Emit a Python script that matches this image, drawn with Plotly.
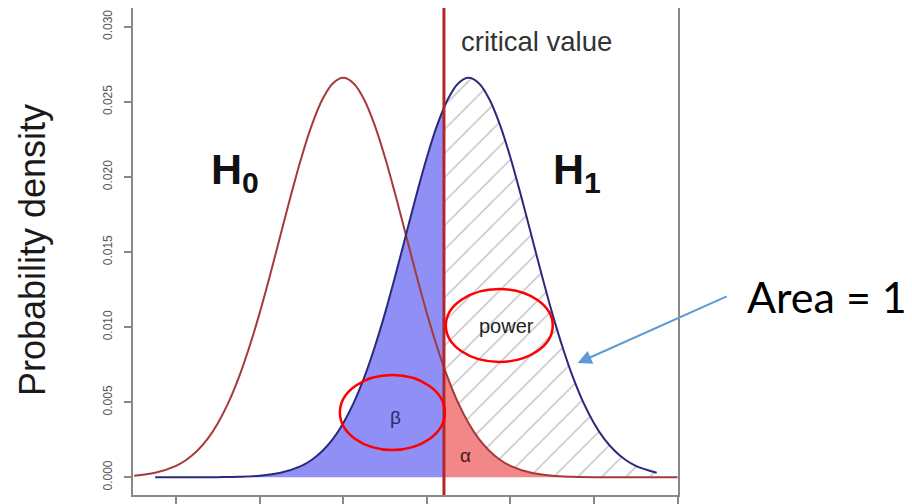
import plotly.graph_objects as go

# ---- data ----
x_h0 = [50, 55, 60, 62.5, 65, 67.5, 70, 72.5, 75, 77.5, 80, 82.5, 85, 87.5, 90, 92.5, 95,
        97.5, 100, 102.5, 105, 107.5, 110, 112.5, 115, 117.5, 120, 122.5, 125, 127.5,
        130, 132.5, 135, 137.5, 140, 145, 150, 155, 160, 165, 170, 175, 180]
d_h0 = [0.0001, 0.0003, 0.00076, 0.00117, 0.00175, 0.00254, 0.0036, 0.00495, 0.00663,
        0.00864, 0.01093, 0.01347, 0.01613, 0.01879, 0.0213, 0.02347, 0.02516,
        0.02623, 0.0266, 0.02623, 0.02516, 0.02347, 0.0213, 0.01879, 0.01613, 0.01347,
        0.01093, 0.00864, 0.00663, 0.00495, 0.0036, 0.00254, 0.00175, 0.00117, 0.00076,
        0.0003, 0.0001, 0.00003, 0.0, 0.0, 0.0, 0.0, 0.0]

x_h1 = [55, 60, 65, 70, 75, 80, 85, 90, 92.5, 95, 97.5, 100, 102.5, 105, 107.5, 110,
        112.5, 115, 117.5, 120, 122.5, 125, 127.5, 130, 132.5, 135, 137.5, 140, 142.5,
        145, 147.5, 150, 152.5, 155, 157.5, 160, 162.5, 165, 167.5, 170, 175]
d_h1 = [0.0, 0.0, 0.0, 0.00001, 0.00003, 0.0001, 0.0003, 0.00076, 0.00117, 0.00175,
        0.00254, 0.0036, 0.00495, 0.00663, 0.00864, 0.01093, 0.01347, 0.01613, 0.01879,
        0.0213, 0.02347, 0.02516, 0.02623, 0.0266, 0.02623, 0.02516, 0.02347, 0.0213,
        0.01879, 0.01613, 0.01347, 0.01093, 0.00864, 0.00663, 0.00495, 0.0036, 0.00254,
        0.00175, 0.00117, 0.00076, 0.0003]

critical_value = 124.1
crit_d_h0 = 0.0073
crit_d_h1 = 0.0247

x_ticks = [60, 80, 100, 120, 140, 160, 180]
y_ticks = [0.0, 0.005, 0.010, 0.015, 0.020, 0.025, 0.030]

# ---- regions ----
beta_x = [x for x in x_h1 if x <= critical_value] + [critical_value]
beta_y = [d for x, d in zip(x_h1, d_h1) if x <= critical_value] + [crit_d_h1]
pow_x = [critical_value] + [x for x in x_h1 if x > critical_value]
pow_y = [crit_d_h1] + [d for x, d in zip(x_h1, d_h1) if x > critical_value]
alp_x = [critical_value] + [x for x in x_h0 if x > critical_value]
alp_y = [crit_d_h0] + [d for x, d in zip(x_h0, d_h0) if x > critical_value]

H0_COL = "#A63A3A"
H1_COL = "#2A2A7C"
FONT = "Liberation Sans, Arial, sans-serif"

fig = go.Figure()
fig.add_trace(go.Scatter(x=beta_x, y=beta_y, mode="lines", fill="tozeroy",
                         fillcolor="rgb(143,143,245)", line=dict(width=0, shape="spline"),
                         hoverinfo="skip"))
fig.add_trace(go.Scatter(x=pow_x, y=pow_y, mode="lines", fill="tozeroy",
                         fillcolor="white", line=dict(width=0, shape="spline"),
                         fillpattern=dict(shape="/", fgcolor="#8c8c8c", bgcolor="white",
                                          size=17, solidity=0.09),
                         hoverinfo="skip"))
fig.add_trace(go.Scatter(x=alp_x, y=alp_y, mode="lines", fill="tozeroy",
                         fillcolor="rgb(241,135,135)", line=dict(width=0, shape="spline"),
                         hoverinfo="skip"))
fig.add_trace(go.Scatter(x=x_h0, y=d_h0, mode="lines", name="H0",
                         line=dict(color=H0_COL, width=2, shape="spline")))
fig.add_trace(go.Scatter(x=x_h1, y=d_h1, mode="lines", name="H1",
                         line=dict(color=H1_COL, width=2, shape="spline")))

# critical value line
fig.add_shape(type="line", xref="x", yref="y domain", x0=critical_value, x1=critical_value,
              y0=0, y1=1, line=dict(color="#B3262B", width=3))

# ellipses
fig.add_shape(type="circle", xref="x", yref="y", x0=124.55, x1=150.13, y0=0.00768, y1=0.01254,
              line=dict(color="#FF0000", width=2.5))
fig.add_shape(type="circle", xref="x", yref="y", x0=99.21, x1=124.31, y0=0.00182, y1=0.00681,
              line=dict(color="#FF0000", width=2.5))

ann = [
    dict(x=127.66, y=0.02905, xref="x", yref="y", text="critical value", showarrow=False,
         xanchor="left", yanchor="middle", font=dict(family=FONT, size=27.5, color="#333333")),
    dict(x=67.9, y=0.0203, xref="x", yref="y", text="<b>H<sub>0</sub></b>", showarrow=False,
         xanchor="left", yanchor="middle", font=dict(family=FONT, size=43, color="#111111")),
    dict(x=149.65, y=0.0203, xref="x", yref="y", text="<b>H<sub>1</sub></b>", showarrow=False,
         xanchor="left", yanchor="middle", font=dict(family=FONT, size=43, color="#111111")),
    dict(x=139.0, y=0.0101, xref="x", yref="y", text="power", showarrow=False,
         xanchor="center", yanchor="middle", font=dict(family=FONT, size=20, color="#222222")),
    dict(x=112.59, y=0.00401, xref="x", yref="y", text="β", showarrow=False,
         xanchor="center", yanchor="middle", font=dict(family=FONT, size=19, color="#2B2B6B")),
    dict(x=129.33, y=0.00148, xref="x", yref="y", text="α", showarrow=False,
         xanchor="center", yanchor="middle", font=dict(family=FONT, size=19, color="#4A1A1A")),
    dict(x=-0.1853, y=0.503, xref="paper", yref="paper", text="Probability density",
         showarrow=False, textangle=-90, xanchor="center", yanchor="middle",
         font=dict(family=FONT, size=36, color="#1A1A1A")),
    dict(x=1.2734, y=0.4076, xref="paper", yref="paper", text="Area = 1", showarrow=False,
         xanchor="center", yanchor="middle", font=dict(family="Lato, sans-serif", size=43, color="#000000")),
    dict(x=156.1, y=0.00761, xref="x", yref="y", text=" ", showarrow=True,
         ax=152, ay=-68, arrowcolor="#5B9BD5", arrowwidth=2, arrowhead=2, arrowsize=1.4,
         standoff=0, startstandoff=0),
]
fig.update_layout(annotations=ann)

fig.update_xaxes(range=[49.7, 180.1], tickvals=x_ticks, showticklabels=False,
                 ticks="outside", ticklen=10, tickcolor="#888888", tickwidth=1.5,
                 showline=True, linecolor="#888888", linewidth=1.5, mirror=True,
                 showgrid=False, zeroline=False, automargin=False)
fig.update_yaxes(range=[-0.00118, 0.03125], tickvals=y_ticks, tickformat=".3f",
                 ticks="outside", ticklen=7, tickcolor="#888888", tickwidth=1.5,
                 tickangle=-90, tickfont=dict(family=FONT, size=12, color="#555555"),
                 ticklabelstandoff=7,
                 showline=True, linecolor="#888888", linewidth=1.5, mirror=True,
                 showgrid=False, zeroline=False, automargin=False)

# the page adds an 8 px body margin, so the margins are reduced to compensate
fig.update_layout(width=912, height=504, margin=dict(l=125, r=242, t=0, b=17),
                  plot_bgcolor="white", paper_bgcolor="white", showlegend=False)

fig.write_html("out.html")
